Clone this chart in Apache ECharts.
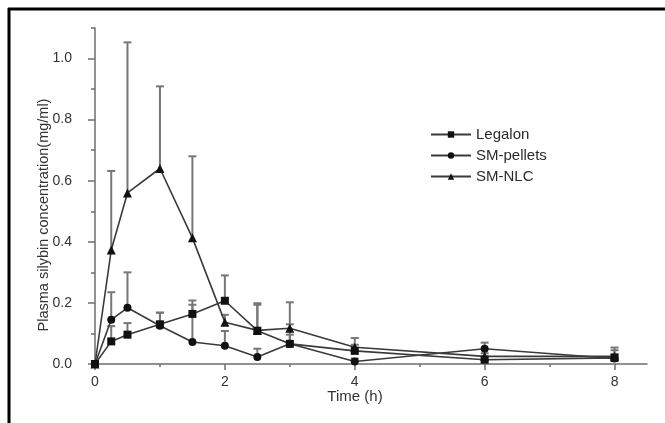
<!DOCTYPE html>
<html>
<head>
<meta charset="utf-8">
<script src="https://cdn.jsdelivr.net/npm/echarts@6/dist/echarts.min.js"></script>
<style>
  html, body { margin: 0; padding: 0; background: #fff; }
  #chart { width: 665px; height: 423px; }
</style>
</head>
<body>
<div id="chart"></div>
<script>
// sampling times (h)
const times = [0, 0.25, 0.5, 1, 1.5, 2, 2.5, 3, 4, 6, 8];

// mean concentrations (mg/ml)
const legalon = [0, 0.074, 0.096, 0.13, 0.164, 0.207, 0.109, 0.066, 0.043, 0.014, 0.02];
const pellets = [0, 0.145, 0.184, 0.125, 0.072, 0.06, 0.023, 0.066, 0.008, 0.05, 0.018];
const nlc = [0, 0.373, 0.56, 0.64, 0.413, 0.137, 0.11, 0.117, 0.055, 0.025, 0.025];

// upper error bar lengths
const legalonErr = [0, 0.05, 0.038, 0.038, 0.03, 0.083, 0.085, 0.064, 0.02, 0.01, 0.034];
const pelletsErr = [0, 0.09, 0.116, 0.043, 0.136, 0.048, 0.027, 0.03, 0.01, 0.02, 0.015];
const nlcErr = [0, 0.259, 0.493, 0.269, 0.267, 0.024, 0.089, 0.085, 0.03, 0.01, 0.02];

const xMajor = [0, 2, 4, 6, 8];
const xMinor = [1, 3, 5, 7];
const yMajor = [0, 0.2, 0.4, 0.6, 0.8, 1.0];
const yMinor = [0.1, 0.3, 0.5, 0.7, 0.9, 1.1];

const names = ["Legalon", "SM-pellets", "SM-NLC"];
const symbols = ["rect", "circle", "triangle"];

const axisColor = "#6e6e6e";
const lineColor = "#3a3a3a";
const font = "Liberation Sans";

function pairs(vals) {
  return times.map((t, i) => [t, vals[i]]);
}
function errData(vals, errs) {
  return times.map((t, i) => [t, vals[i], vals[i] + errs[i]]);
}

function errorBars(vals, errs) {
  return {
    type: "custom",
    data: errData(vals, errs),
    z: 1,
    silent: true,
    renderItem: function(params, api) {
      if (api.value(2) <= api.value(1)) return;
      const lo = api.coord([api.value(0), api.value(1)]);
      const hi = api.coord([api.value(0), api.value(2)]);
      const style = { stroke: "#777", lineWidth: 2 };
      return {
        type: "group",
        children: [
          { type: "line", shape: { x1: lo[0], y1: lo[1], x2: hi[0], y2: hi[1] }, style: style },
          { type: "line", shape: { x1: hi[0] - 4, y1: hi[1], x2: hi[0] + 4, y2: hi[1] }, style: style }
        ]
      };
    }
  };
}

function lineSeries(i, vals) {
  return {
    name: names[i],
    type: "line",
    data: pairs(vals),
    symbol: symbols[i],
    symbolSize: i === 2 ? 9 : 8,
    z: 3,
    lineStyle: { color: lineColor, width: 1.6 },
    itemStyle: { color: "#111" }
  };
}

const chart = echarts.init(document.getElementById("chart"));
chart.setOption({
  backgroundColor: "#fff",
  animation: false,
  graphic: [
    { type: "line", shape: { x1: 8, y1: 9, x2: 665, y2: 9 }, style: { stroke: "#000", lineWidth: 3 } },
    { type: "line", shape: { x1: 9, y1: 8, x2: 9, y2: 423 }, style: { stroke: "#000", lineWidth: 3 } }
  ],
  grid: { left: 95, right: 18, top: 28, bottom: 59 },
  legend: {
    orient: "vertical",
    left: 425,
    top: 122,
    itemWidth: 40,
    itemHeight: 8,
    itemGap: 6,
    data: names,
    textStyle: { fontFamily: font, fontSize: 15, color: "#2a2a2a" }
  },
  xAxis: [
    {
      type: "value",
      min: 0,
      max: 8.5,
      name: "Time (h)",
      nameLocation: "middle",
      nameGap: 25,
      nameMoveOverlap: false,
      nameTextStyle: { fontFamily: font, fontSize: 15, color: "#333", padding: [0, 32, 0, 0] },
      splitLine: { show: false },
      axisLine: { lineStyle: { color: axisColor, width: 1.5 } },
      axisTick: { customValues: xMajor, length: 6, lineStyle: { color: axisColor, width: 1.5 } },
      axisLabel: {
        customValues: xMajor,
        margin: 11,
        fontFamily: font,
        fontSize: 14,
        color: "#333"
      }
    },
    {
      type: "value",
      min: 0,
      max: 8.5,
      position: "bottom",
      splitLine: { show: false },
      axisLine: { show: false },
      axisTick: { customValues: xMinor, length: 3, lineStyle: { color: axisColor, width: 1.5 } },
      axisLabel: { show: false }
    }
  ],
  yAxis: [
    {
      type: "value",
      min: 0,
      max: 1.1,
      name: "Plasma silybin concentration(mg/ml)",
      nameLocation: "middle",
      nameGap: 44,
      nameMoveOverlap: false,
      nameTextStyle: { fontFamily: font, fontSize: 14.5, color: "#333", padding: [0, 38, 0, 0] },
      splitLine: { show: false },
      axisLine: { show: true, lineStyle: { color: axisColor, width: 1.5 } },
      axisTick: { show: true, customValues: yMajor, length: 7, lineStyle: { color: axisColor, width: 1.5 } },
      axisLabel: {
        customValues: yMajor,
        margin: 23,
        fontFamily: font,
        fontSize: 14,
        color: "#333",
        formatter: v => v.toFixed(1)
      }
    },
    {
      type: "value",
      min: 0,
      max: 1.1,
      position: "left",
      splitLine: { show: false },
      axisLine: { show: false },
      axisTick: { show: true, customValues: yMinor, length: 4, lineStyle: { color: axisColor, width: 1.5 } },
      axisLabel: { show: false }
    }
  ],
  series: [
    errorBars(legalon, legalonErr),
    errorBars(pellets, pelletsErr),
    errorBars(nlc, nlcErr),
    lineSeries(0, legalon),
    lineSeries(1, pellets),
    lineSeries(2, nlc)
  ]
});
window.addEventListener("resize", function() {
  chart.resize();
});
</script>
</body>
</html>
